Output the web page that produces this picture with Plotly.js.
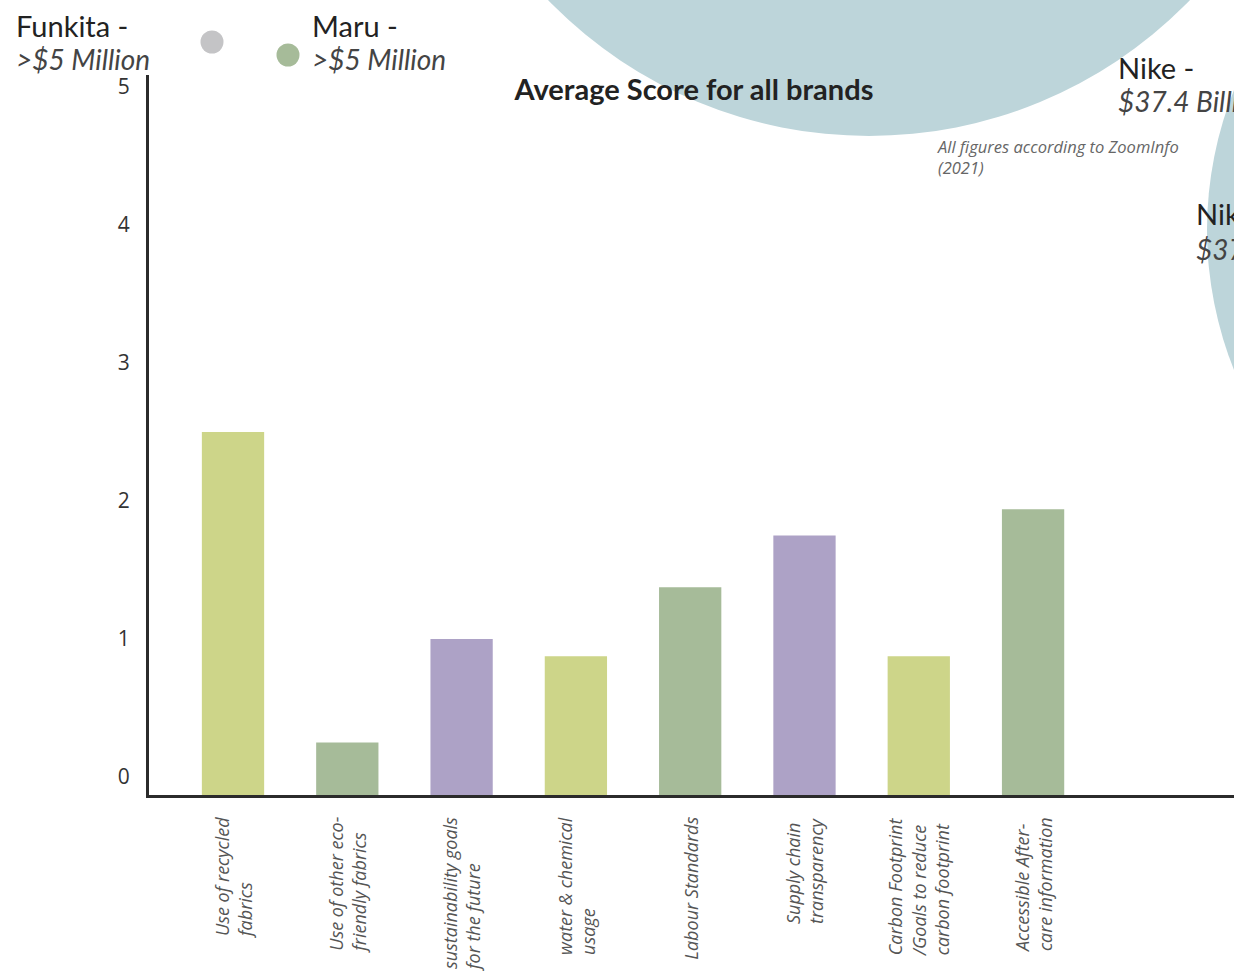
<!DOCTYPE html>
<html>
<head>
<meta charset="utf-8">
<script src="https://cdn.plot.ly/plotly-3.0.1.min.js"></script>
<style>
  html, body { margin: 0; padding: 0; background: #ffffff; }
  #chart { width: 1234px; height: 977px; }
</style>
</head>
<body>
<div id="chart"></div>
<script>
// ---- data ----
const categories = [
  "Use of recycled fabrics",
  "Use of other eco-friendly fabrics",
  "sustainability goals for the future",
  "water & chemical usage",
  "Labour Standards",
  "Supply chain transparency",
  "Carbon Footprint /Goals to reduce carbon footprint",
  "Accessible After-care information"
];
const tickLabels = [
  "Use of recycled<br>fabrics",
  "Use of other eco-<br>friendly fabrics",
  "sustainability goals<br>for the future",
  "water & chemical<br>usage",
  "Labour Standards",
  "Supply chain<br>transparency",
  "Carbon Footprint<br>/Goals to reduce<br>carbon footprint",
  "Accessible After-<br>care information"
];
const scores = [2.5, 0.25, 1.0, 0.875, 1.375, 1.75, 0.875, 1.94];
const yTicks = [0, 1, 2, 3, 4, 5];
const brandNames = ["Funkita -", "Maru -", "Nike -", "Nike -"];
const brandRevenue = [">$5 Million", ">$5 Million", "$37.4 Billion", "$37.4 Billion"];
const chartTitle = "Average Score for all brands";
const sourceNote = "All figures according to ZoomInfo<br>(2021)";

// ---- style / layout constants ----
const barColors = ["#CDD589", "#A6BB99", "#ADA2C6", "#CDD589", "#A6BB99", "#ADA2C6", "#CDD589", "#A6BB99"];
const W = 1234, H = 977;
const L = 149, R = 0, T = 75, B = 182;
const PW = W - L - R, PH = H - T - B;
const Y_MIN = -0.13, Y_MAX = 5.087;
const X_MIN = -0.735, X_MAX = 8.758;
const px2x = px => (px - L) / PW;
const py2y = py => (H - B - py) / PH;
const FONT = "Lato, 'Open Sans', sans-serif";
const FONT2 = "'Open Sans', Lato, sans-serif";
const circleColor = "#BDD5DA";

const trace = {
  type: "bar",
  x: categories,
  y: scores.map(v => v - Y_MIN),
  base: Y_MIN,
  customdata: scores,
  hovertemplate: "%{x}: %{customdata}<extra></extra>",
  marker: { color: barColors, line: { width: 0 } },
  showlegend: false
};

const annotations = [];
categories.forEach((c, i) => {
  annotations.push({
    xref: "x", yref: "paper", x: c, y: 0, yshift: -20,
    xanchor: "center", yanchor: "top", textangle: -90, align: "left",
    text: tickLabels[i], showarrow: false,
    font: { family: FONT2, size: 18, color: "#555555", style: "italic" }
  });
});

function label(px, py, txt, size, color, italic) {
  annotations.push({
    xref: "paper", yref: "paper", x: px2x(px), y: py2y(py),
    xanchor: "left", yanchor: "middle", align: "left",
    text: txt, showarrow: false,
    font: { family: FONT, size: size, color: color, style: italic ? "italic" : "normal" }
  });
}
label(14, 25, brandNames[0], 29, "#222222", false);
label(14, 59, brandRevenue[0], 28, "#444444", true);
label(310, 25, brandNames[1], 29, "#222222", false);
label(310, 59, brandRevenue[1], 28, "#444444", true);
label(1116, 67, brandNames[2], 29, "#222222", false);
label(1116, 101, brandRevenue[2], 28, "#444444", true);
label(1194, 213, brandNames[3], 29, "#222222", false);
label(1194, 249, brandRevenue[3], 28, "#444444", true);
annotations.push({
  xref: "paper", yref: "paper", x: px2x(935), y: py2y(133),
  xanchor: "left", yanchor: "top", align: "left",
  text: sourceNote, showarrow: false,
  font: { family: FONT2, size: 16.5, color: "#666666", style: "italic" }
});

function circle(cx, cy, r, color) {
  return {
    type: "circle", xref: "paper", yref: "paper",
    xsizemode: "pixel", ysizemode: "pixel",
    xanchor: px2x(cx), yanchor: py2y(cy),
    x0: -r, x1: r, y0: -r, y1: r,
    fillcolor: color, line: { width: 0 }, layer: "below"
  };
}
const shapes = [
  circle(869, -311, 447, circleColor),
  circle(1583, 230, 376, circleColor),
  circle(212, 42, 11.5, "#C4C4C6"),
  circle(288, 55, 11.5, "#A6BB99")
];

const layout = {
  width: W, height: H,
  margin: { l: L, r: R, t: T, b: B, pad: 0 },
  paper_bgcolor: "#ffffff", plot_bgcolor: "rgba(0,0,0,0)",
  title: {
    text: chartTitle, xref: "container", yref: "container",
    x: 694 / W, y: 1 - 90 / H, xanchor: "center", yanchor: "middle",
    font: { family: FONT, size: 29, color: "#222222", weight: 700 }
  },
  bargap: 0.455,
  xaxis: {
    type: "category", range: [X_MIN, X_MAX],
    showticklabels: false, ticks: "",
    showline: true, linewidth: 3, linecolor: "#2b2b2b",
    showgrid: false, zeroline: false, fixedrange: true
  },
  yaxis: {
    range: [Y_MIN, Y_MAX], tickvals: yTicks, ticktext: yTicks.map(String),
    ticks: "outside", ticklen: 12, tickcolor: "rgba(0,0,0,0)",
    tickfont: { family: FONT2, size: 21, color: "#333333" },
    showline: true, linewidth: 3, linecolor: "#2b2b2b",
    showgrid: false, zeroline: false, fixedrange: true
  },
  shapes: shapes,
  annotations: annotations,
  showlegend: false
};

Plotly.newPlot("chart", [trace], layout, { displayModeBar: false, staticPlot: true });
</script>
</body>
</html>
